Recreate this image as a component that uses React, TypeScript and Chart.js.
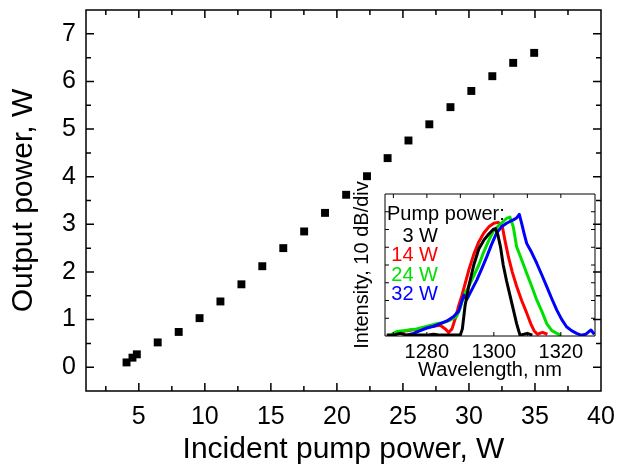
import React, { useEffect, useRef } from "react";
import { Chart, registerables } from "chart.js";

Chart.register(...registerables);

// ---------- Main chart data ----------
const pumpPower = [4.07, 4.52, 4.85, 6.43, 8.02, 9.6, 11.18, 12.77, 14.35, 15.94, 17.52, 19.1, 20.7, 22.28, 23.84, 25.42, 27.0, 28.6, 30.18, 31.77, 33.35, 34.94];
const outputPower = [0.10, 0.20, 0.27, 0.52, 0.74, 1.03, 1.38, 1.74, 2.12, 2.50, 2.85, 3.24, 3.62, 4.01, 4.39, 4.76, 5.10, 5.46, 5.80, 6.11, 6.39, 6.60];
const xTickValues = [5, 10, 15, 20, 25, 30, 35, 40];
const yTickValues = [0, 1, 2, 3, 4, 5, 6, 7];
const xTitle = "Incident pump power, W";
const yTitle = "Output power, W";

// ---------- Inset spectra data ----------
const insetLegendTitle = "Pump power:";
const seriesLabels = ["3 W", "14 W", "24 W", "32 W"];
const seriesColors = ["#000000", "#ff0000", "#00e000", "#0000ff"];

const wl3 = [1268, 1270, 1272, 1274, 1276, 1278, 1280, 1282, 1284, 1286, 1288, 1290, 1290.6, 1291.4, 1292.5, 1294, 1295.5, 1297, 1298.5, 1299.8, 1300.5, 1301.2, 1302, 1302.8, 1303.8, 1304.8, 1305.8, 1306.8, 1307.8, 1309, 1310, 1311.5];
const db3 = [-79.5, -79.5, -78.5, -79.5, -79.5, -79.5, -79.5, -79, -79.5, -79.5, -79.5, -79.5, -76, -63, -52, -40, -31, -26, -22.5, -20, -19.5, -23, -30, -40, -49, -57, -65, -73, -79.5, -79, -78.5, -79.5];

const wl14 = [1270, 1272, 1274, 1276, 1278, 1280, 1282, 1284, 1285.5, 1286.5, 1287.5, 1288.5, 1289.5, 1290.5, 1291.5, 1292.5, 1294, 1295.5, 1297, 1298.5, 1300, 1301.3, 1302.5, 1303.3, 1304.3, 1305.5, 1306.8, 1308.3, 1309.8, 1311, 1312, 1313, 1314.5, 1316];
const db14 = [-79, -78, -77, -76.5, -76, -75, -74.5, -74, -76, -78, -76, -70, -63, -57, -50, -43, -34, -27, -22, -18.5, -16.5, -16, -18, -26, -35, -44, -52, -60, -67, -73, -77, -79, -78, -79];

const wl24 = [1269.5, 1271, 1273, 1275, 1277, 1279, 1281, 1283, 1285, 1287, 1288.9, 1290, 1290.9, 1292.5, 1293.9, 1295.5, 1296.8, 1298.3, 1299.8, 1301.3, 1302.8, 1303.8, 1304.8, 1305.8, 1306.8, 1308.3, 1309.8, 1311.3, 1312.8, 1314.3, 1315.8, 1317.3, 1318.8, 1320];
const db24 = [-79, -77.5, -77, -76.5, -76, -75, -74, -73, -72.5, -71, -69, -64, -58, -52, -46.5, -40, -33.5, -27, -21, -18, -15.5, -13.7, -13, -18.4, -29.7, -37, -44.7, -52, -59.7, -66, -73, -77, -78.5, -79.5];

const wl32 = [1274, 1276, 1278, 1280, 1282, 1284, 1286, 1288, 1289.5, 1290.5, 1291, 1291.9, 1293.4, 1294.9, 1296.4, 1297.9, 1299.3, 1300.8, 1302.3, 1303.8, 1304.8, 1305.8, 1306.8, 1307.6, 1308.3, 1309, 1309.8, 1311.3, 1312.8, 1314.3, 1315.8, 1317.3, 1318.8, 1320.2, 1321.7, 1323.2, 1324.7, 1326, 1327.5, 1329, 1330];
const db32 = [-79.5, -78.5, -77, -75.5, -74.5, -73, -71.5, -69, -66, -60, -57, -59.5, -54, -48.5, -42, -35.3, -28.5, -22, -18.5, -16.5, -15.5, -14.6, -13.5, -11.5, -16.5, -22, -27.8, -33, -39, -45.5, -52.2, -59, -65.4, -70.5, -74.8, -77, -78.5, -79.5, -79, -76.6, -79];

const insetXTicks = [1280, 1300, 1320];
const insetXTitle = "Wavelength, nm";
const insetYTitle = "Intensity, 10 dB/div";

const FONT = "'Liberation Sans', Arial, Helvetica, sans-serif";

function toPoints(xs: number[], ys: number[]) {
  return xs.map((x, i) => ({ x, y: ys[i] }));
}

function isMultiple(v: number, step: number) {
  const r = v / step;
  return Math.abs(r - Math.round(r)) < 1e-6;
}

function zeroPad(s: any) {
  s.paddingTop = 0;
  s.paddingBottom = 0;
  s.paddingLeft = 0;
  s.paddingRight = 0;
}

function drawFrame(chart: any, xStep: number, xMajor: number, yStep: number, yMajor: number, majorLen: number, minorLen: number, lw: number) {
  const ctx: CanvasRenderingContext2D = chart.ctx;
  const area = chart.chartArea;
  const xs = chart.scales.x;
  const ys = chart.scales.y;
  ctx.save();
  ctx.strokeStyle = "#000000";
  ctx.lineWidth = lw;
  ctx.beginPath();
  ctx.rect(area.left, area.top, area.right - area.left, area.bottom - area.top);
  const x0 = Math.ceil(xs.min / xStep - 1e-9) * xStep;
  for (let k = 0; k < 200; k++) {
    const v = x0 + k * xStep;
    if (v > xs.max + 1e-9) break;
    const px = xs.getPixelForValue(v);
    if (px - area.left < 2 || area.right - px < 2) continue;
    const len = isMultiple(v, xMajor) ? majorLen : minorLen;
    ctx.moveTo(px, area.bottom);
    ctx.lineTo(px, area.bottom - len);
    ctx.moveTo(px, area.top);
    ctx.lineTo(px, area.top + len);
  }
  const y0 = Math.ceil(ys.min / yStep - 1e-9) * yStep;
  for (let k = 0; k < 200; k++) {
    const v = y0 + k * yStep;
    if (v > ys.max + 1e-9) break;
    const py = ys.getPixelForValue(v);
    if (area.bottom - py < 2 || py - area.top < 2) continue;
    const len = isMultiple(v, yMajor) ? majorLen : minorLen;
    ctx.moveTo(area.left, py);
    ctx.lineTo(area.left + len, py);
    ctx.moveTo(area.right, py);
    ctx.lineTo(area.right - len, py);
  }
  ctx.stroke();
  ctx.restore();
}

export default function App() {
  const mainRef = useRef<HTMLCanvasElement | null>(null);
  const insetRef = useRef<HTMLCanvasElement | null>(null);

  useEffect(() => {
    const mainCanvas = mainRef.current!;
    const insetCanvas = insetRef.current!;

    const wlSets = [wl3, wl14, wl24, wl32];
    const dbSets = [db3, db14, db24, db32];
    const drawOrder = [0, 3, 2, 1];

    const insetChart = new Chart(insetCanvas, {
      type: "scatter",
      data: {
        datasets: seriesLabels.map((label, i) => ({
          label,
          data: toPoints(wlSets[i], dbSets[i]),
          showLine: true,
          pointRadius: 0,
          borderColor: seriesColors[i],
          backgroundColor: seriesColors[i],
          borderWidth: 3,
          borderJoinStyle: "round",
          order: drawOrder[i],
        })),
      },
      options: {
        responsive: false,
        animation: false,
        events: [],
        layout: { padding: { top: 16, right: 3, left: 0, bottom: 0 } },
        plugins: { legend: { display: false }, tooltip: { enabled: false } },
        scales: {
          x: {
            type: "linear",
            min: 1267.5,
            max: 1330.2,
            grid: { display: false, drawTicks: false },
            border: { display: false },
            afterBuildTicks: (s: any) => {
              s.ticks = insetXTicks.map((v) => ({ value: v }));
            },
            afterFit: (s: any) => {
              s.height = 46;
              zeroPad(s);
            },
            ticks: {
              autoSkip: false,
              maxRotation: 0,
              padding: 4,
              color: "#000",
              font: { family: FONT, size: 20 },
              callback: (v: any) => String(v),
            },
            title: {
              display: true,
              text: insetXTitle,
              color: "#000",
              font: { family: FONT, size: 20 },
              padding: { top: 0, bottom: 0 },
            },
          },
          y: {
            type: "linear",
            min: -80,
            max: 0,
            grid: { display: false, drawTicks: false },
            border: { display: false },
            afterFit: (s: any) => {
              s.width = 40;
              zeroPad(s);
            },
            ticks: { display: false, stepSize: 10 },
            title: {
              display: true,
              text: insetYTitle,
              color: "#000",
              font: { family: FONT, size: 20 },
              padding: { top: 5, bottom: 0 },
            },
          },
        },
      },
      plugins: [
        {
          id: "insetFrame",
          afterDraw: (c: any) => {
            drawFrame(c, 10, 10, 10, 10, 4, 4, 1);
            const ctx: CanvasRenderingContext2D = c.ctx;
            const area = c.chartArea;
            ctx.save();
            ctx.font = `20px ${FONT}`;
            ctx.textBaseline = "alphabetic";
            ctx.textAlign = "left";
            ctx.fillStyle = "#000";
            ctx.fillText(insetLegendTitle, area.left + 2, area.top + 26);
            ctx.textAlign = "right";
            seriesLabels.forEach((label, i) => {
              ctx.fillStyle = seriesColors[i];
              ctx.fillText(label, area.left + 53, area.top + 47.7 + i * 19.4);
            });
            ctx.restore();
          },
        },
      ],
    } as any);

    const mainChart = new Chart(mainCanvas, {
      type: "scatter",
      data: {
        datasets: [
          {
            label: "Output power",
            data: toPoints(pumpPower, outputPower),
            pointStyle: "rect",
            pointRadius: 5.6,
            backgroundColor: "#000",
            borderColor: "#000",
            borderWidth: 0,
          },
        ],
      },
      options: {
        responsive: false,
        animation: false,
        events: [],
        layout: { padding: { top: 10, right: 18, left: 0, bottom: 0 } },
        plugins: { legend: { display: false }, tooltip: { enabled: false } },
        scales: {
          x: {
            type: "linear",
            min: 1,
            max: 40,
            grid: { display: false, drawTicks: false },
            border: { display: false },
            afterBuildTicks: (s: any) => {
              s.ticks = xTickValues.map((v) => ({ value: v }));
            },
            afterFit: (s: any) => {
              s.height = 80;
              zeroPad(s);
            },
            ticks: {
              autoSkip: false,
              maxRotation: 0,
              padding: 11,
              color: "#000",
              font: { family: FONT, size: 25 },
              callback: (v: any) => String(v),
            },
            title: {
              display: true,
              text: xTitle,
              color: "#000",
              font: { family: FONT, size: 30 },
              padding: { top: 0, bottom: 3 },
            },
          },
          y: {
            type: "linear",
            min: -0.5,
            max: 7.5,
            grid: { display: false, drawTicks: false },
            border: { display: false },
            afterBuildTicks: (s: any) => {
              s.ticks = yTickValues.map((v) => ({ value: v }));
            },
            afterFit: (s: any) => {
              s.width = 86;
              zeroPad(s);
            },
            ticks: {
              autoSkip: false,
              padding: 10,
              color: "#000",
              font: { family: FONT, size: 25 },
              callback: (v: any) => String(v),
            },
            title: {
              display: true,
              text: yTitle,
              color: "#000",
              font: { family: FONT, size: 30 },
              padding: { top: 6, bottom: 0 },
            },
          },
        },
      },
      plugins: [
        {
          id: "mainFrame",
          afterDraw: (c: any) => {
            drawFrame(c, 2.5, 5, 0.5, 1, 8, 5, 1.5);
          },
        },
      ],
    } as any);

    return () => {
      mainChart.destroy();
      insetChart.destroy();
    };
  }, []);

  return (
    <div
      style={{
        position: "fixed",
        left: 0,
        top: 0,
        width: 619,
        height: 471,
        background: "#fff",
        overflow: "hidden",
      }}
    >
      <canvas
        id="main"
        ref={mainRef}
        width={619}
        height={471}
        style={{ position: "absolute", left: 0, top: 0, width: 619, height: 471 }}
      />
      <canvas
        id="inset"
        ref={insetRef}
        width={253}
        height={204}
        style={{ position: "absolute", left: 345, top: 178, width: 253, height: 204 }}
      />
    </div>
  );
}
